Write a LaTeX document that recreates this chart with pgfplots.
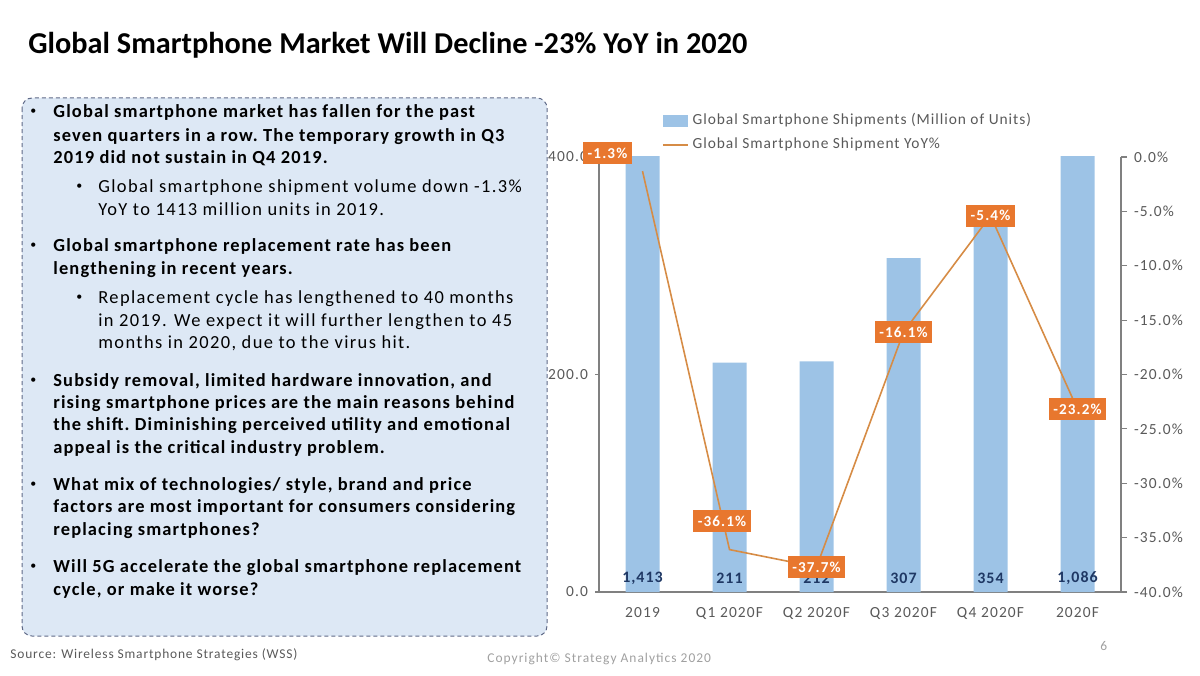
\documentclass[border=0pt]{standalone}
\usepackage{pgfplots}
\pgfplotsset{compat=1.18}
\usepackage{fontspec}
\setmainfont{Carlito}
\newfontfamily\wide{Carlito}[LetterSpace=6.2]
\newfontfamily\wider{Carlito}[LetterSpace=7.5]
\definecolor{barblue}{RGB}{157,195,230}
\definecolor{lineor}{RGB}{214,140,70}
\definecolor{lblor}{RGB}{232,119,46}
\definecolor{boxfill}{RGB}{221,232,245}
\definecolor{boxedge}{RGB}{95,105,135}
\definecolor{txtgray}{RGB}{89,89,89}
\definecolor{lightgray}{RGB}{160,160,160}
\definecolor{valblue}{RGB}{31,56,100}
\definecolor{axgray}{RGB}{128,128,128}
\newcommand{\fs}[1]{\fontsize{#1}{#1}\selectfont}
\begin{document}
\begin{tikzpicture}[x=0.5bp,y=-0.5bp]
\path[use as bounding box] (0,0) rectangle (1200,675);
% title
\node[anchor=base west, inner sep=0, text=black] at (28,54) {\fs{15.2}\bfseries Global Smartphone Market Will Decline -23\% YoY in 2020};
% text box
\draw[boxedge, dash pattern=on 2bp off 1.5bp, fill=boxfill, rounded corners=5bp, line width=0.5bp] (22,98) rectangle (547,636);
\foreach \yy/\txt in {118/{Global smartphone market has fallen for the past},
  141/{seven quarters in a row.\ The temporary growth in Q3},
  163/{2019 did not sustain in Q4 2019.},
  251/{Global smartphone replacement rate has been},
  274/{lengthening in recent years.},
  386/{Subsidy removal, limited hardware innovation, and},
  408/{rising smartphone prices are the main reasons behind},
  430/{the shift.\ Diminishing perceived utility and emotional},
  453/{appeal is the critical industry problem.},
  490/{What mix of technologies/ style, brand and price},
  512/{factors are most important for consumers considering},
  535/{replacing smartphones?},
  572/{Will 5G accelerate the global smartphone replacement},
  595/{cycle, or make it worse?}}
  {\node[anchor=base west, inner sep=0] at (53,\yy) {\wide\fs{9.25}\bfseries \txt};}
\foreach \yy in {118,251,386,490,572}
  {\node[anchor=base west, inner sep=0] at (30,\yy-3) {\fs{6}•};}
\foreach \yy/\txt in {192/{Global smartphone shipment volume down -1.3\%},
  215/{YoY to 1413 million units in 2019.},
  303/{Replacement cycle has lengthened to 40 months},
  326/{in 2019. We expect it will further lengthen to 45},
  348/{months in 2020, due to the virus hit.}}
  {\node[anchor=base west, inner sep=0] at (98,\yy) {\wider\fs{9.25}\txt};}
\foreach \yy in {192,303}
  {\node[anchor=base west, inner sep=0] at (76,\yy-3) {\fs{6}•};}
% footer
\node[anchor=base west, inner sep=0, text=txtgray] at (10,658) {\wide\fs{6.75}Source: Wireless Smartphone Strategies (WSS)};
\node[anchor=base west, inner sep=0, text=lightgray] at (487,662) {\wider\fs{6.75}Copyright© Strategy Analytics 2020};
\node[anchor=base west, inner sep=0, text=lightgray] at (1100,650) {\wide\fs{6.75}6};
% chart
\coordinate (O) at (599,592);
\begin{axis}[at={(O)}, anchor=south west, scale only axis,
  width=261bp, height=217.5bp,
  xmin=-0.5, xmax=5.5, ymin=0, ymax=400,
  axis x line*=bottom, axis y line*=left,
  axis line style={axgray, line width=0.6bp},
  xtick={0,...,5},
  xticklabels={2019, Q1 2020F, Q2 2020F, Q3 2020F, Q4 2020F, 2020F},
  x tick style={draw=none},
  extra x ticks={-0.5,0.5,...,5.5}, extra x tick labels={},
  extra x tick style={tick align=outside, major tick length=3bp, tick style={axgray, line width=0.6bp}},
  ytick={0,200,400},
  y tick style={axgray, line width=0.6bp}, tick align=outside, major tick length=2bp,
  yticklabel style={/pgf/number format/.cd, fixed, fixed zerofill, precision=1, assume math mode=true},
  ticklabel style={font=\wider\fs{7.75}, text=txtgray},
  xticklabel style={yshift=-2bp},
  legend style={at={(0.12,1.11)}, anchor=north west, draw=none, fill=none,
    font=\wide\fs{7.75}, text=txtgray, row sep=1.2bp, inner sep=0pt,
    /tikz/every even column/.append style={column sep=1bp}},
  legend cell align=left,
]
\addplot[ybar, bar width=17bp, bar shift=0pt, fill=barblue, draw=none,
  legend image code/.code={\fill[barblue] (0bp,-3bp) rectangle (12.5bp,3bp);}]
  coordinates {(0,1413) (1,211) (2,212) (3,307) (4,354) (5,1086)};
\addlegendentry{Global Smartphone Shipments (Million of Units)}
\addlegendimage{legend image code/.code={\draw[lineor, line width=0.8bp] (0bp,0bp) -- (12.5bp,0bp);}}
\addlegendentry{Global Smartphone Shipment YoY\%}
\addplot[draw=none, mark=none, nodes near coords, point meta=explicit symbolic,
  nodes near coords style={anchor=center, font=\wide\fs{8}\bfseries, text=valblue}]
  table[meta=lab] {
x y lab
0 13 1,413
1 13 211
2 13 212
3 13 307
4 13 354
5 13 1,086
};
\end{axis}
\begin{axis}[at={(O)}, anchor=south west, scale only axis,
  width=261bp, height=217.5bp,
  xmin=-0.5, xmax=5.5, ymin=-40, ymax=0,
  axis x line=none, axis y line*=right,
  axis line style={axgray, line width=0.6bp},
  ytick={-40,-35,...,0},
  y tick style={axgray, line width=0.6bp}, tick align=outside, major tick length=3bp,
  yticklabel={\pgfmathprintnumber[fixed, fixed zerofill, precision=1, assume math mode=true]{\tick}\%},
  ticklabel style={font=\wider\fs{7.75}, text=txtgray},
  clip=false,
]
\addplot[lineor, line width=0.8bp, mark=none,
  nodes near coords={\pgfmathprintnumber[fixed, fixed zerofill, precision=1, assume math mode=true]{\pgfplotspointmeta}\%},
  point meta=y,
  visualization depends on={value \thisrow{dx}\as\dx},
  visualization depends on={value \thisrow{dy}\as\dy},
  nodes near coords style={anchor=center, fill=lblor, text=white, font=\wider\fs{7.6}\bfseries,
    inner xsep=2.3bp, inner ysep=2.8bp, xshift=\dx bp, yshift=\dy bp}]
  table {
x y dx dy
0 -1.3 -17.5 9
1 -36.1 -3.75 14.3
2 -37.7 0 0
3 -16.1 0 0
4 -5.4 0 0
5 -23.2 0 0
};
\end{axis}
\end{tikzpicture}
\end{document}
